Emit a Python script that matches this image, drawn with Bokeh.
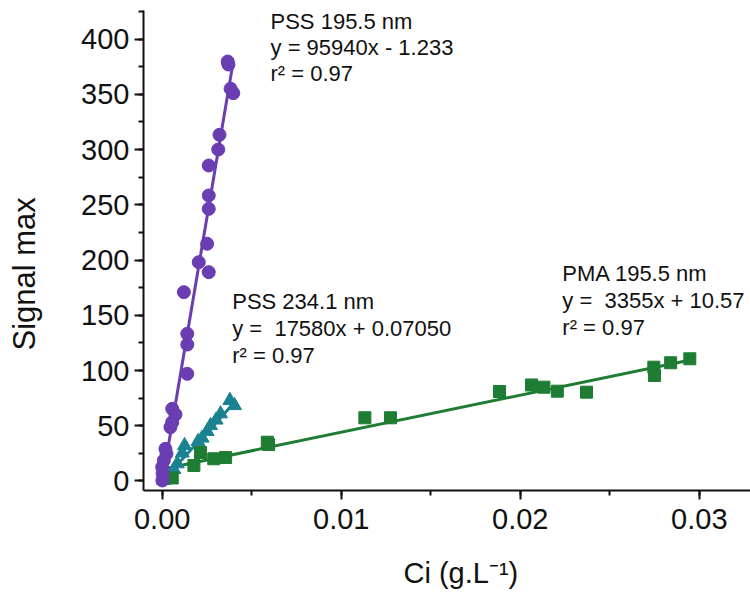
from bokeh.plotting import figure
from bokeh.models import Range1d, SingleIntervalTicker, Label, Title, PrintfTickFormatter
from bokeh.embed import file_html
from bokeh.resources import INLINE

# ---- data ----
pss195_x = [0.00366, 0.00370, 0.00382, 0.00397, 0.00320, 0.00313, 0.00260, 0.00260,
            0.00260, 0.00251, 0.00204, 0.00260, 0.00121, 0.00140, 0.00140, 0.00140,
            0.00056, 0.00074, 0.00056, 0.00046, 0.00018, 0.00024, 0.00009, 0.00000,
            0.00002, 0.00001]
pss195_y = [379.6, 376.9, 355.0, 351.0, 313.3, 300.0, 285.5, 258.4,
            246.3, 214.7, 198.0, 189.0, 170.9, 133.2, 123.5, 97.0,
            65.3, 60.2, 53.2, 48.7, 29.1, 24.6, 18.6, 12.5,
            6.8, 0.5]

pss234_x = [0.00378, 0.00404, 0.00326, 0.00301, 0.00270, 0.00251, 0.00223, 0.00200,
            0.00125, 0.00112, 0.00084, 0.00065, 0.00028, 0.00007]
pss234_y = [72.9, 68.3, 60.8, 55.2, 50.2, 44.8, 38.9, 35.7,
            32.1, 25.3, 15.6, 10.4, 2.7, 0.5]

pma_x = [0.00056, 0.00177, 0.00214, 0.00288, 0.00354, 0.00587, 0.00594, 0.01132,
         0.01275, 0.01884, 0.02063, 0.02132, 0.02207, 0.02370, 0.02746, 0.02750,
         0.02840, 0.02947]
pma_y = [2.7, 14.0, 25.8, 20.1, 21.3, 35.1, 33.0, 57.2,
         57.2, 81.0, 86.9, 84.9, 81.3, 80.4, 103.0, 95.5,
         107.0, 110.6]

# linear fits shown on the chart (slope, intercept, x extent)
fit_pss195 = (95940.0, -1.233, [0.0, 0.00395])
fit_pss234 = (17580.0, 0.07050, [0.0, 0.00405])
fit_pma = (3355.0, 10.57, [0.0, 0.0295])

ann_pss195 = ["PSS 195.5 nm", "y = 95940x - 1.233", "r\u00b2 = 0.97"]
ann_pss234 = ["PSS 234.1 nm", "y = \u00a017580x + 0.07050", "r\u00b2 = 0.97"]
ann_pma = ["PMA 195.5 nm", "y = \u00a03355x + 10.57", "r\u00b2 = 0.97"]

x_title = "Ci (g.L\u207b\u00b9)"
y_title = "Signal max"

PURPLE = "#6A3DB2"
TEAL = "#1B8291"
GREEN = "#1E7C33"
INK = "#111111"
FONT = "Liberation Sans"

p = figure(width=750, height=592, output_backend="svg", toolbar_location=None,
           x_range=Range1d(-0.001045, 0.03286), y_range=Range1d(-8.6, 425.8),
           min_border_left=143, min_border_right=0, min_border_top=10,
           min_border_bottom=102)
p.outline_line_color = None
p.grid.visible = False
p.background_fill_color = "white"
p.border_fill_color = "white"

p.xaxis.ticker = SingleIntervalTicker(interval=0.01, num_minor_ticks=2)
p.yaxis.ticker = SingleIntervalTicker(interval=50, num_minor_ticks=2)
p.xaxis.formatter = PrintfTickFormatter(format="%.2f")

for ax in (p.xaxis, p.yaxis):
    ax.axis_line_width = 2
    ax.axis_line_color = INK
    ax.major_tick_line_width = 2
    ax.minor_tick_line_width = 2
    ax.major_tick_line_color = INK
    ax.minor_tick_line_color = INK
    ax.major_tick_out = 9
    ax.major_tick_in = 0
    ax.minor_tick_out = 5
    ax.minor_tick_in = 0
    ax.major_label_text_font = FONT
    ax.major_label_text_font_size = "29px"
    ax.major_label_text_color = INK
p.xaxis.major_label_standoff = 9
p.yaxis.major_label_standoff = 5


def fit_line(fit):
    m, b, xs = fit
    return xs, [m * x + b for x in xs]


for fit, col in ((fit_pss234, TEAL), (fit_pma, GREEN), (fit_pss195, PURPLE)):
    xs, ys = fit_line(fit)
    p.line(xs, ys, line_color=col, line_width=3)

p.scatter(pss234_x, pss234_y, marker="triangle", size=14, fill_color=TEAL, line_color=TEAL)
p.scatter(pma_x, pma_y, marker="square", size=12, fill_color=GREEN, line_color=GREEN)
p.scatter(pss195_x, pss195_y, marker="circle", size=13, fill_color=PURPLE, line_color=PURPLE)


def add_block(lines, x, ys):
    for txt, y in zip(lines, ys):
        p.add_layout(Label(x=x, y=y, text=txt, text_font=FONT, text_font_size="22px",
                           text_color=INK, text_baseline="middle", text_align="left"))


add_block(ann_pss195, 0.00605, [415.8, 392.3, 368.8])
add_block(ann_pss234, 0.00391, [162.4, 138.0, 113.6])
add_block(ann_pma, 0.02235, [187.5, 163.1, 138.7])

# spacer panels (blank) so the axis titles sit where the reference has them
p.add_layout(Title(text="\u00a0", text_font_size="1px", standoff=18), "below")
p.add_layout(Title(text="\u00a0", text_font_size="1px", standoff=31), "left")

# axis titles as side titles (positionable along the side)
p.add_layout(Title(text=x_title, text_font=FONT, text_font_size="29px",
                   text_color=INK, text_font_style="normal", align="left",
                   vertical_align="bottom", offset=260, standoff=4), "below")
p.add_layout(Title(text=y_title, text_font=FONT, text_font_size="31px",
                   text_color=INK, text_font_style="normal", align="left",
                   vertical_align="top", offset=140, standoff=2), "left")

open("out.html", "w").write(file_html(p, INLINE))
